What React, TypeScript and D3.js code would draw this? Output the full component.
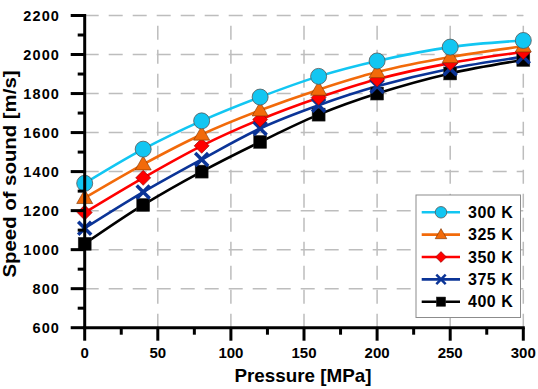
import React from "react";
import * as d3 from "d3";

const pressures = [0, 40, 80, 120, 160, 200, 250, 300];
const seriesNames = ["300 K", "325 K", "350 K", "375 K", "400 K"];
const v300 = [1340, 1515, 1660, 1782, 1888, 1967, 2038, 2072];
const v325 = [1265, 1437, 1590, 1714, 1820, 1910, 1987, 2042];
const v350 = [1190, 1368, 1532, 1667, 1779, 1873, 1956, 2013];
const v375 = [1110, 1295, 1462, 1621, 1740, 1837, 1927, 1988];
const v400 = [1030, 1229, 1400, 1552, 1692, 1800, 1903, 1972];
const seriesValues = [v300, v325, v350, v375, v400];
const colors = ["#12C6F2", "#F26A0A", "#FF0000", "#0B3497", "#000000"];
const markers = ["circle", "triangle", "diamond", "cross", "square"];
const xTicks = [0, 50, 100, 150, 200, 250, 300];
const xMinor = [25, 75, 125, 175, 225, 275];
const yTicks = [600, 800, 1000, 1200, 1400, 1600, 1800, 2000, 2200];
const yMinor = [700, 900, 1100, 1300, 1500, 1700, 1900, 2100];

const FONT = "'Liberation Sans', Arial, sans-serif";

function Marker({ type, x, y, color, s = 1 }: { type: string; x: number; y: number; color: string; s?: number }) {
  const stroke = "#333";
  if (type === "circle")
    return <circle cx={x} cy={y} r={8 * s} fill={color} stroke="#555" strokeWidth={0.8} />;
  if (type === "triangle") {
    const w = 8 * s, h = 14 * s;
    const p = `${x},${y - h * 0.6} ${x + w},${y + h * 0.4} ${x - w},${y + h * 0.4}`;
    return <polygon points={p} fill={color} stroke="#7a3300" strokeWidth={0.6} />;
  }
  if (type === "diamond") {
    const r = 7.5 * s;
    const p = `${x},${y - r} ${x + r},${y} ${x},${y + r} ${x - r},${y}`;
    return <polygon points={p} fill={color} stroke="#800" strokeWidth={0.6} />;
  }
  if (type === "cross") {
    const r = 6.5 * s;
    return (
      <g stroke={color} strokeWidth={3.5 * s}>
        <line x1={x - r} y1={y - r} x2={x + r} y2={y + r} />
        <line x1={x - r} y1={y + r} x2={x + r} y2={y - r} />
      </g>
    );
  }
  const r = 6.5 * s;
  return <rect x={x - r} y={y - r} width={2 * r} height={2 * r} fill={color} stroke={stroke} strokeWidth={0.5} />;
}

export default function App() {
  const x = d3.scaleLinear().domain([0, 300]).range([84.7, 523.3]);
  const y = d3.scaleLinear().domain([600, 2200]).range([327.7, 15.5]);
  const line = d3
    .line<number>()
    .x((_, i) => x(pressures[i]))
    .y((d) => y(d))
    .curve(d3.curveCatmullRom.alpha(0.5));
  const order = [4, 3, 2, 1, 0];
  const x0 = x(0), yb = y(600);
  return (
    <svg width={538} height={389} style={{ position: "absolute", left: 0, top: 0, background: "#fff" }} fontFamily={FONT}>
      <rect width={538} height={389} fill="#fff" />
      {/* grid */}
      <g stroke="#BDBDBD" strokeWidth={1.5} strokeDasharray="14,10">
        {xTicks.filter((t) => t > 0).map((t) => (
          <line key={"gx" + t} x1={x(t)} x2={x(t)} y1={yb} y2={y(2200)} />
        ))}
        {yTicks.filter((t) => t > 600).map((t) => (
          <line key={"gy" + t} x1={x0} x2={x(300)} y1={y(t)} y2={y(t)} />
        ))}
      </g>
      {/* series */}
      {order.map((si) => (
        <g key={"s" + si}>
          <path d={line(seriesValues[si]) || ""} fill="none" stroke={colors[si]} strokeWidth={2.6} />
        </g>
      ))}
      {order.map((si) => (
        <g key={"m" + si}>
          {seriesValues[si].map((v, i) => (
            <Marker key={i} type={markers[si]} x={x(pressures[i])} y={y(v)} color={colors[si]} />
          ))}
        </g>
      ))}
      {/* axes */}
      <g stroke="#000" strokeWidth={3}>
        <line x1={x0} x2={x0} y1={y(2200) - 1.5} y2={yb + 1.5} />
        <line x1={x0 - 1.5} x2={x(300) + 1.5} y1={yb} y2={yb} />
        {yTicks.map((t) => (
          <line key={"yt" + t} x1={x0 - 14} x2={x0} y1={y(t)} y2={y(t)} />
        ))}
        {yMinor.map((t) => (
          <line key={"ym" + t} x1={x0 - 7} x2={x0} y1={y(t)} y2={y(t)} />
        ))}
        {xTicks.map((t) => (
          <line key={"xt" + t} x1={x(t)} x2={x(t)} y1={yb} y2={yb + 13} />
        ))}
        {xMinor.map((t) => (
          <line key={"xm" + t} x1={x(t)} x2={x(t)} y1={yb} y2={yb + 7} />
        ))}
      </g>
      {/* tick labels */}
      <g fontWeight="bold" fontSize={14.5} fill="#000">
        {yTicks.map((t) => (
          <text key={"yl" + t} x={60} y={y(t)} dy="0.36em" textAnchor="end" letterSpacing={1.1}>
            {t}
          </text>
        ))}
        {xTicks.map((t) => (
          <text key={"xl" + t} x={x(t)} y={358} textAnchor="middle" fontSize={15}>
            {t}
          </text>
        ))}
      </g>
      <text x={303} y={382} textAnchor="middle" fontWeight="bold" fontSize={19} textLength={137} lengthAdjust="spacingAndGlyphs">
        Pressure [MPa]
      </text>
      <text transform="translate(15.5,174) rotate(-90)" textAnchor="middle" fontWeight="bold" fontSize={19} textLength={207} lengthAdjust="spacingAndGlyphs">
        Speed of sound [m/s]
      </text>
      {/* legend */}
      <rect x={416} y={195} width={104.5} height={122.5} fill="#fff" stroke="#8c8c8c" strokeWidth={1} />
      {seriesNames.map((n, i) => {
        const ly = 212.3 + i * 22.35;
        return (
          <g key={"lg" + i}>
            <line x1={421.7} x2={460} y1={ly} y2={ly} stroke={colors[i]} strokeWidth={2.6} />
            <Marker type={markers[i]} x={441} y={ly} color={colors[i]} s={0.72} />
            <text x={468} y={ly} dy="0.36em" fontWeight="bold" fontSize={16} letterSpacing={0.5}>
              {n}
            </text>
          </g>
        );
      })}
    </svg>
  );
}
